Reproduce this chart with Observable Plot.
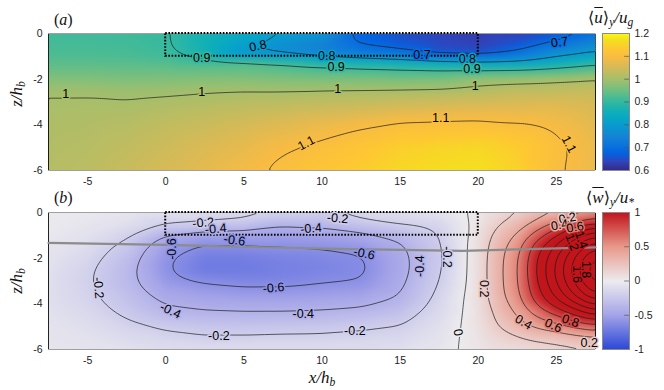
<!DOCTYPE html>
<html><head><meta charset="utf-8">
<script src="https://cdn.jsdelivr.net/npm/d3@7"></script>
<script src="https://cdn.jsdelivr.net/npm/@observablehq/plot@0.6"></script>
<style>
body{margin:0;background:#fff;}
#wrap{position:relative;width:664px;height:390px;overflow:hidden;font-family:"Liberation Sans",Arial,sans-serif;}
#wrap svg{position:absolute;background:transparent;overflow:visible;}
.m{position:absolute;font-family:"Liberation Serif","Times New Roman",serif;font-style:italic;color:#111;white-space:nowrap;line-height:1;}
.m sub{font-size:68%;vertical-align:-0.3em;}
.ov{text-decoration:overline;}
.br{font-family:"DejaVu Serif",serif;font-style:normal;font-weight:300;font-size:0.95em;}
</style></head><body><div id="wrap"></div>
<script>
// ---------- data ----------
const xNodes = [-7.5,-5,-2.5,0,2.5,5,7.5,10,12.5,15,17.5,20,22.5,25,27.5];
const zNodesA = [0,-0.4,-0.8,-1.0,-1.2,-1.6,-2,-2.5,-3,-4,-5,-6];
// one column of <u>/u_g per x node (top to bottom)
const uCols = [
  [0.912,0.915,0.92,0.925,0.93,0.948,0.968,0.996,1.004,1.01,1.014,1.017],
  [0.912,0.915,0.92,0.925,0.93,0.948,0.968,0.995,1.005,1.013,1.019,1.024],
  [0.91,0.913,0.918,0.922,0.928,0.946,0.965,0.99,1.003,1.018,1.03,1.038],
  [0.905,0.906,0.908,0.914,0.924,0.946,0.966,0.993,1.008,1.03,1.045,1.055],
  [0.865,0.862,0.865,0.88,0.91,0.943,0.969,0.998,1.013,1.04,1.06,1.072],
  [0.84,0.815,0.79,0.805,0.92,0.942,0.97,1.0,1.019,1.052,1.075,1.09],
  [0.81,0.775,0.77,0.795,0.895,0.935,0.965,1.0,1.022,1.065,1.095,1.11],
  [0.795,0.745,0.74,0.79,0.86,0.925,0.962,1.003,1.027,1.08,1.11,1.125],
  [0.68,0.69,0.715,0.775,0.845,0.918,0.96,1.004,1.032,1.095,1.125,1.14],
  [0.655,0.66,0.7,0.75,0.835,0.91,0.958,1.005,1.04,1.108,1.145,1.16],
  [0.64,0.643,0.655,0.71,0.82,0.905,0.96,1.007,1.045,1.11,1.155,1.17],
  [0.63,0.633,0.65,0.695,0.805,0.9,0.985,1.015,1.05,1.112,1.16,1.175],
  [0.635,0.655,0.7,0.73,0.8,0.905,0.99,1.028,1.055,1.105,1.14,1.15],
  [0.66,0.705,0.76,0.795,0.835,0.915,1.0,1.03,1.06,1.092,1.11,1.105],
  [0.7,0.75,0.8,0.83,0.87,0.94,1.01,1.035,1.05,1.07,1.08,1.08]
];
const zNodesB = [0,-0.5,-1,-1.5,-2,-2.5,-3,-3.5,-4,-4.5,-5,-5.5,-6];
// one column of <w>/u_* per x node (top to bottom)
const wCols = [
  [-0.01,-0.015,-0.025,-0.04,-0.06,-0.075,-0.085,-0.085,-0.08,-0.07,-0.06,-0.05,-0.04],
  [-0.02,-0.04,-0.07,-0.1,-0.14,-0.17,-0.18,-0.17,-0.15,-0.12,-0.09,-0.07,-0.05],
  [-0.04,-0.08,-0.17,-0.25,-0.31,-0.34,-0.34,-0.31,-0.27,-0.22,-0.16,-0.11,-0.07],
  [-0.06,-0.18,-0.42,-0.53,-0.58,-0.59,-0.55,-0.48,-0.41,-0.33,-0.22,-0.15,-0.09],
  [-0.08,-0.22,-0.5,-0.63,-0.7,-0.72,-0.62,-0.53,-0.45,-0.36,-0.26,-0.18,-0.1],
  [-0.1,-0.27,-0.5,-0.62,-0.7,-0.72,-0.65,-0.56,-0.46,-0.37,-0.27,-0.17,-0.1],
  [-0.15,-0.38,-0.52,-0.6,-0.67,-0.69,-0.65,-0.56,-0.46,-0.37,-0.26,-0.16,-0.1],
  [-0.18,-0.35,-0.5,-0.59,-0.65,-0.67,-0.62,-0.54,-0.45,-0.36,-0.25,-0.16,-0.1],
  [-0.1,-0.27,-0.45,-0.56,-0.62,-0.63,-0.6,-0.52,-0.43,-0.33,-0.22,-0.15,-0.1],
  [-0.08,-0.18,-0.36,-0.43,-0.46,-0.46,-0.44,-0.41,-0.36,-0.27,-0.19,-0.13,-0.08],
  [-0.05,-0.15,-0.2,-0.22,-0.23,-0.22,-0.2,-0.17,-0.14,-0.11,-0.08,-0.06,-0.04],
  [0.01,0.04,0.07,0.08,0.09,0.09,0.09,0.09,0.08,0.07,0.06,0.05,0.04],
  [0.15,0.3,0.42,0.52,0.57,0.58,0.58,0.56,0.5,0.4,0.3,0.18,0.08],
  [0.3,0.65,1.0,1.25,1.4,1.45,1.42,1.3,1.1,0.8,0.5,0.25,0.12],
  [0.5,1.0,1.6,2.0,2.3,2.4,2.35,2.1,1.7,1.2,0.7,0.35,0.15]
];
const levelsA = [0.7,0.8,0.9,1,1.1];
const levelsB = [-0.6,-0.4,-0.2,0,0.2,0.4,0.6,0.8,1,1.2,1.4,1.6,1.8,2,2.2];
const xTicks = [-5,0,5,10,15,20,25];
const zTicks = [-6,-4,-2,0];
const cbTicksA = [0.6,0.7,0.8,0.9,1,1.1,1.2];
const cbTicksB = [-1,-0.5,0,0.5,1];
const boxX = [0,20];
const boxZ = [-1,0];
const lineX = [-7.5,0,10,19,27.5];
const lineZ = [-1.33,-1.42,-1.58,-1.68,-1.53];
// contour labels
const labAx = [2.3,5.9,10.3,10.9,16.4,19.3,19.6,25.2,-6.4,2.3,11.0,19.8,9.0,17.6,25.8];
const labAz = [-1.08,-0.55,-1.0,-1.45,-0.93,-1.12,-1.55,-0.38,-2.63,-2.58,-2.42,-2.3,-4.8,-3.72,-4.85];
const labAt = ["0.9","0.8","0.8","0.9","0.7","0.8","0.9","0.7","1","1","1","1","1.1","1.1","1.1"];
const labArot = [0,-12,0,0,0,0,0,-8,0,0,0,0,-28,0,62];
const labBx = [2.4,3.2,4.4,9.3,11.0,0.4,12.7,6.9,16.3,18.0,-4.3,0.3,8.8,3.4,12.1,18.7,20.35,22.9,24.8,25.9,27.1,25.7,25.2,26.2,26.0,26.6,26.3,26.9];
const labBz = [-0.45,-0.72,-1.22,-0.7,-0.26,-1.6,-1.8,-3.3,-2.35,-1.95,-3.3,-4.3,-4.44,-5.4,-5.2,-5.25,-3.34,-4.8,-4.95,-4.75,-5.7,-0.25,-0.55,-0.65,-1.3,-1.2,-2.7,-2.5];
const labBt = ["-0.2","-0.4","-0.6","-0.4","-0.2","-0.6","-0.6","-0.6","-0.4","-0.2","-0.2","-0.4","-0.4","-0.2","-0.2","0","0.2","0.4","0.6","0.8","0.2","0.2","0.4","0.6","1.2","1.4","1.6","1.8"];
const labBrot = [-5,-5,8,-5,5,-90,12,-5,-90,90,85,25,0,0,0,80,90,30,25,20,0,-10,-10,-10,70,70,90,90];
// colour maps
const parulaIdx = [0,4,8,12,16,20,24,28,32,36,40,44,48,52,56,60,63];
const parulaStops = ["#352a87","#3243ba","#0363e1","#0d75dc","#1485d4","#0998d1","#06a7c6","#15b1b4","#38b99e","#65be86","#92bf73","#b7bd64","#d9ba56","#f8bb44","#fec832","#f5de21","#f9fb0e"];
const rbDomain = [-1,-0.5,0,0.5,1];
const rbColors = ["#2a47d9","#a4a3e8","#ecebee","#e8998a","#c1141b"];

// ---------- build ----------
function grid(xs, zs, cols){const out=[];xs.forEach((x,i)=>zs.forEach((z,j)=>out.push({x,z,v:cols[i][j]})));return out;}
function labels(xs,zs,ts,rs){return xs.map((x,i)=>({x,z:zs[i],t:ts[i],r:rs[i],lv:+ts[i]}));}
const dataA = grid(xNodes,zNodesA,uCols);
const dataB = grid(xNodes,zNodesB,wCols);
const labsA = labels(labAx,labAz,labAt,labArot);
const labsB = labels(labBx,labBz,labBt,labBrot);
const box = [{x1:boxX[0],x2:boxX[1],y1:boxZ[0],y2:boxZ[1]}];
const gline = lineX.map((x,i)=>({x,z:lineZ[i]}));
const parulaScale = d3.scaleLinear().domain(parulaIdx.map(i=>i/63)).range(parulaStops).interpolate(d3.interpolateRgb).clamp(true);
const parula = t => parulaScale(t);
const colorA = {type:"linear",domain:[0.6,1.2],interpolate:parula,clamp:true};
const colorB = {type:"linear",domain:rbDomain,range:rbColors,clamp:true};
const styleBase = {background:"transparent",fontSize:"10.5px",fontFamily:"Liberation Sans, Arial, sans-serif",color:"#222"};
const fmt = d => String(d);

function panel(data, color, levels, labs, extra, h, mt){
  return Plot.plot({
    width:600,height:h,marginLeft:48,marginRight:5,marginTop:mt,marginBottom:h-mt-137,
    style:styleBase,
    x:{domain:[-7.5,27.5],ticks:xTicks,tickFormat:fmt,tickSize:0,tickPadding:7,label:null},
    y:{domain:[-6,0],ticks:zTicks,tickFormat:fmt,tickSize:0,tickPadding:6,label:null},
    color,
    marks:[
      Plot.raster(data,{x:"x",y:"z",fill:"v",interpolate:"barycentric",blur:3}),
      Plot.contour(data,{x:"x",y:"z",value:"v",thresholds:levels,interpolate:"barycentric",blur:3,fill:"none",stroke:"#1a1a1a",strokeWidth:0.7}),
      Plot.ruleY([-6,0],{stroke:"#a0a0a0",strokeWidth:1}),
      ...extra,
      Plot.rect(box,{x1:"x1",x2:"x2",y1:"y1",y2:"y2",fill:"none",stroke:"#000",strokeWidth:2,strokeDasharray:"1.6 1.6"}),
      Plot.text(labs,{x:"x",y:"z",text:"t",rotate:"r",fill:"#000",stroke:"lv",strokeWidth:3,paintOrder:"stroke",fontSize:12.5})
    ]
  });
}
function colorbar(color, dom, ticks, h, mt){
  return Plot.plot({
    width:68,height:h,marginLeft:6,marginRight:35,marginTop:mt,marginBottom:h-mt-137,
    style:styleBase,
    x:{domain:[0,1],axis:null},
    y:{domain:dom,ticks,tickFormat:fmt,tickSize:0,tickPadding:5,axis:"right",label:null},
    color,
    marks:[
      Plot.raster({fill:(x,y)=>y,x1:0,x2:1,y1:dom[0],y2:dom[1]}),
      Plot.ruleY(ticks,{x1:0.82,x2:1,stroke:"#555",strokeWidth:0.7}),
      Plot.frame({stroke:"#8a8a8a"})
    ]
  });
}
const wrap = document.getElementById("wrap");
function place(el,left,top){el.style.left=left+"px";el.style.top=top+"px";wrap.appendChild(el);}
place(panel(dataA,colorA,levelsA,labsA,[],190,33),0,0);
place(panel(dataB,colorB,levelsB,labsB,[Plot.line(gline,{x:"x",y:"z",stroke:"#8c8c8c",strokeWidth:2.2})],210,32),0,180);
place(colorbar(colorA,[0.6,1.2],cbTicksA,190,33),596,0);
place(colorbar(colorB,[-1,1],cbTicksB,210,32),596,180);

function html(h,css){const d=document.createElement("div");d.className="m";d.innerHTML=h;Object.assign(d.style,css);wrap.appendChild(d);}
html("(<i>a</i>)",{left:"54px",top:"12px",fontSize:"16px",fontStyle:"normal"});
html("(<i>b</i>)",{left:"54px",top:"190px",fontSize:"16px",fontStyle:"normal"});
html("<span class='br'>⟨</span><span class='ov'>u</span><span class='br'>⟩</span><sub>y</sub>/u<sub>g</sub>",{left:"588px",top:"9px",fontSize:"17px"});
html("<span class='br'>⟨</span><span class='ov'>w</span><span class='br'>⟩</span><sub>y</sub>/u<sub>*</sub>",{left:"586px",top:"189px",fontSize:"17px"});
html("z/h<sub>b</sub>",{left:"0px",top:"94px",width:"36px",textAlign:"center",fontSize:"17px",transform:"translate(0,-50%) rotate(-90deg)"});
html("z/h<sub>b</sub>",{left:"0px",top:"281px",width:"36px",textAlign:"center",fontSize:"17px",transform:"translate(0,-50%) rotate(-90deg)"});
html("x/h<sub>b</sub>",{left:"302px",top:"369px",width:"40px",textAlign:"center",fontSize:"17px"});
</script></body></html>
